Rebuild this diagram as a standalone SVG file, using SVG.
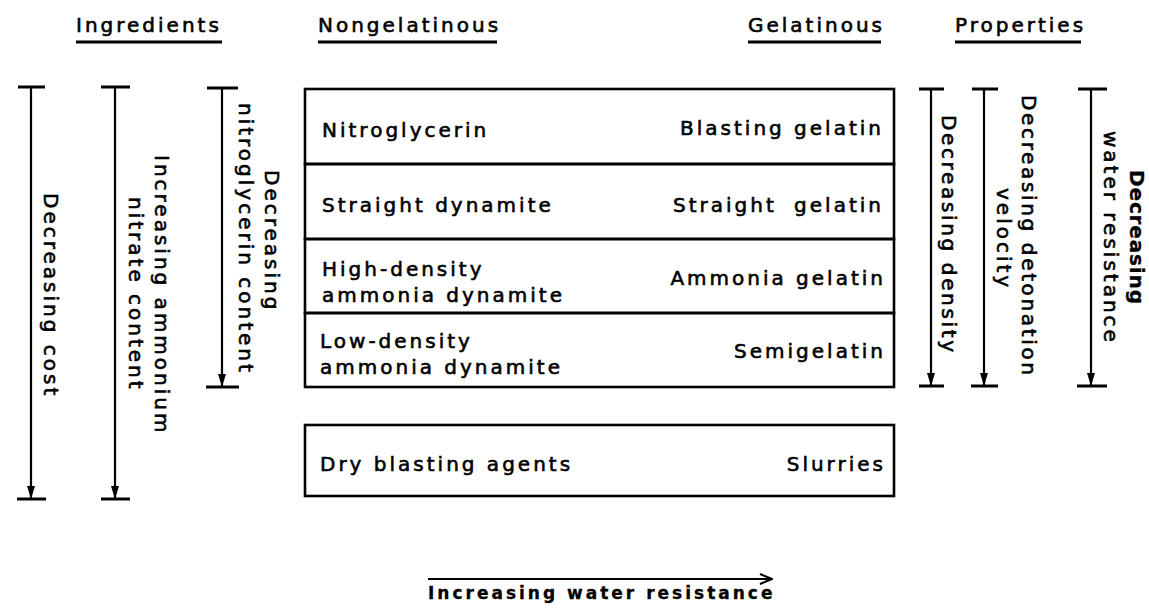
<svg xmlns="http://www.w3.org/2000/svg" width="1149" height="610" viewBox="0 0 1149 610">
<style>
text{font-family:"DejaVu Sans","Liberation Sans",sans-serif;font-size:20px;letter-spacing:3px;fill:#000;stroke:#000;stroke-width:0.6px}
.box{fill:none;stroke:#000;stroke-width:2.6}
.ln{stroke:#000;stroke-width:2.2;fill:none}
.tick{stroke:#000;stroke-width:3;fill:none}
.ul{stroke:#000;stroke-width:3}
.bold{font-weight:bold;font-size:17px;stroke-width:0.3px}
</style>
<defs>
<marker id="ah" markerWidth="10" markerHeight="14" refX="5" refY="13" orient="0" markerUnits="userSpaceOnUse">
<path d="M1,0 L9,0 L5,13 Z" fill="#000"/>
</marker>
<marker id="ahr" markerWidth="14" markerHeight="12" refX="13" refY="6" orient="auto" markerUnits="userSpaceOnUse">
<path d="M1,1 L13,6 L1,11" fill="none" stroke="#000" stroke-width="2.2"/>
</marker>
</defs>
<rect width="1149" height="610" fill="#fff"/>

<g id="headers">
<text x="76" y="32">Ingredients</text>
<line class="ul" x1="76" y1="42" x2="222" y2="42"/>
<text x="318" y="32">Nongelatinous</text>
<line class="ul" x1="318" y1="42" x2="497" y2="42"/>
<text x="748" y="32">Gelatinous</text>
<line class="ul" x1="748" y1="42" x2="881" y2="42"/>
<text x="955" y="32">Properties</text>
<line class="ul" x1="955" y1="42" x2="1081" y2="42"/>
</g>

<g id="connectors">
<g id="arrow-cost">
<line class="ln" x1="31" y1="87" x2="31" y2="499" marker-end="url(#ah)"/>
<line class="tick" x1="18" y1="87" x2="45" y2="87"/>
<line class="tick" x1="17" y1="499" x2="46" y2="499"/>
</g>
<g id="arrow-ammonium">
<line class="ln" x1="115" y1="87" x2="115" y2="499" marker-end="url(#ah)"/>
<line class="tick" x1="101" y1="87" x2="130" y2="87"/>
<line class="tick" x1="101" y1="499" x2="130" y2="499"/>
</g>
<g id="arrow-ng">
<line class="ln" x1="222" y1="88" x2="222" y2="387" marker-end="url(#ah)"/>
<line class="tick" x1="207" y1="88" x2="238" y2="88"/>
<line class="tick" x1="206" y1="387" x2="239" y2="387"/>
</g>
<g id="arrow-density">
<line class="ln" x1="931" y1="89" x2="931" y2="386" marker-end="url(#ah)"/>
<line class="tick" x1="919" y1="89" x2="944" y2="89"/>
<line class="tick" x1="919" y1="386" x2="944" y2="386"/>
</g>
<g id="arrow-velocity">
<line class="ln" x1="984" y1="89" x2="984" y2="386" marker-end="url(#ah)"/>
<line class="tick" x1="972" y1="89" x2="998" y2="89"/>
<line class="tick" x1="971" y1="386" x2="998" y2="386"/>
</g>
<g id="arrow-water">
<line class="ln" x1="1091" y1="89" x2="1091" y2="386" marker-end="url(#ah)"/>
<line class="tick" x1="1078" y1="89" x2="1107" y2="89"/>
<line class="tick" x1="1077" y1="386" x2="1107" y2="386"/>
</g>
<g id="arrow-bottom">
<line class="ln" x1="428" y1="579" x2="772" y2="579" marker-end="url(#ahr)"/>
</g>
</g>

<g id="labels-vertical">
<text transform="translate(44,193) rotate(90)">Decreasing cost</text>
<text transform="translate(155,155) rotate(90)">Increasing ammonium</text>
<text transform="translate(129,197) rotate(90)">nitrate content</text>
<text transform="translate(265,170) rotate(90)">Decreasing</text>
<text transform="translate(239,103) rotate(90)">nitroglycerin content</text>
<text transform="translate(942,115) rotate(90)" textLength="237" lengthAdjust="spacing" style="letter-spacing:0">Decreasing density</text>
<text transform="translate(1022,95) rotate(90)" textLength="280" lengthAdjust="spacing" style="letter-spacing:0">Decreasing detonation</text>
<text transform="translate(997,188) rotate(90)">velocity</text>
<text transform="translate(1130,170) rotate(90)" style="font-weight:bold;stroke-width:0.3px" textLength="137" lengthAdjust="spacing">Decreasing</text>
<text transform="translate(1104,131) rotate(90)">water resistance</text>
</g>

<g id="row-nitroglycerin">
<rect class="box" x="305" y="89" width="589" height="75"/>
<text x="322" y="137">Nitroglycerin</text>
<text x="884" y="135" text-anchor="end">Blasting gelatin</text>
</g>
<g id="row-straight">
<rect class="box" x="305" y="164" width="589" height="75"/>
<text x="322" y="212">Straight dynamite</text>
<text x="884" y="212" text-anchor="end" word-spacing="8">Straight gelatin</text>
</g>
<g id="row-ammonia">
<rect class="box" x="305" y="239" width="589" height="74"/>
<text x="322" y="276">High-density</text>
<text x="322" y="302">ammonia dynamite</text>
<text x="886" y="285" text-anchor="end">Ammonia gelatin</text>
</g>
<g id="row-lowdensity">
<rect class="box" x="305" y="313" width="589" height="74"/>
<text x="320" y="348">Low-density</text>
<text x="320" y="374">ammonia dynamite</text>
<text x="886" y="358" text-anchor="end">Semigelatin</text>
</g>
<g id="row-dry">
<rect class="box" x="305" y="425" width="589" height="71"/>
<text x="320" y="471">Dry blasting agents</text>
<text x="886" y="471" text-anchor="end">Slurries</text>
</g>

<g id="label-bottom">
<text class="bold" x="428" y="599">Increasing water resistance</text>
</g>
</svg>
